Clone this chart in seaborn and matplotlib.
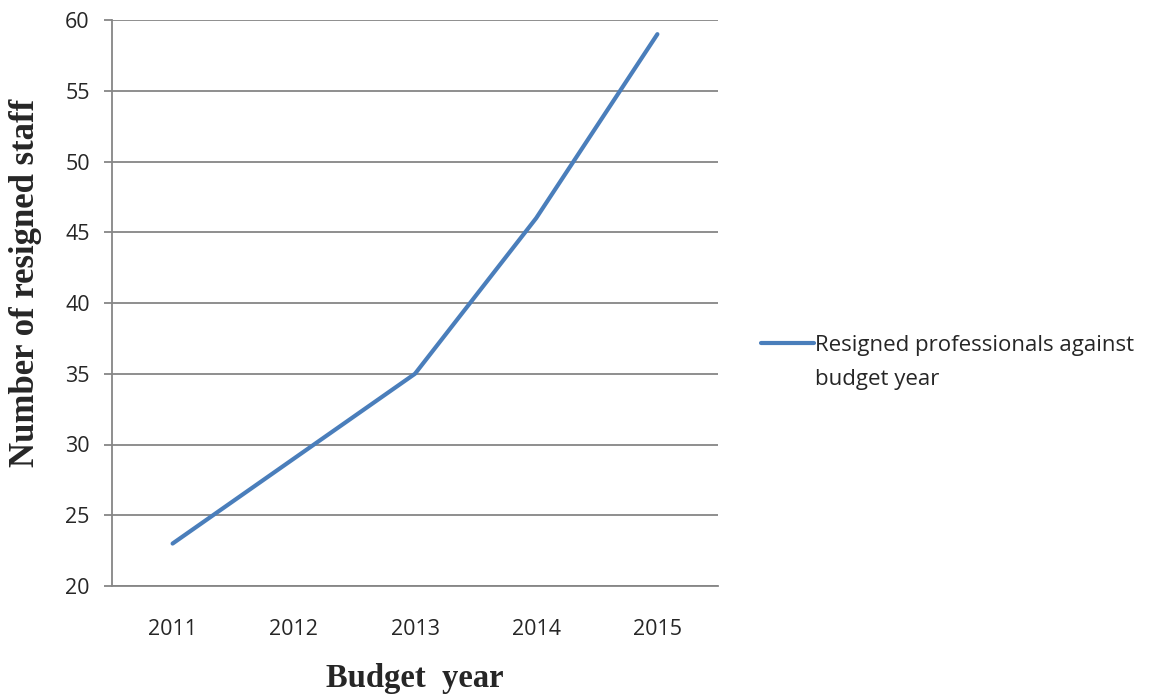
import pandas as pd
import matplotlib
matplotlib.use("Agg")
import matplotlib.pyplot as plt
import seaborn as sns

# Data
years = ["2011", "2012", "2013", "2014", "2015"]
resigned = [23, 29, 35, 46, 59]
series_lines = ["Resigned professionals against", "budget year"]

df = pd.DataFrame({"Year": years, "Resigned": resigned,
                   "Series": " ".join(series_lines)})

sns.set_theme(style="white")
plt.rcParams["font.family"] = ["Open Sans", "DejaVu Sans"]

grid_col = "#868686"
line_col = "#4A7EBB"

fig = plt.figure(figsize=(11.56, 7), dpi=100)
ax = fig.add_axes([112 / 1156, 1 - 586 / 700, 606 / 1156, 566 / 700])

sns.lineplot(data=df, x="Year", y="Resigned", hue="Series", palette=[line_col],
             linewidth=3, ax=ax, sort=False, legend=False)
ax.lines[0].set_solid_capstyle("round")

ax.set_xlim(-0.5, len(years) - 0.5)
ax.set_ylim(20, 60)
ax.set_yticks(range(20, 61, 5))

ax.grid(axis="y", color=grid_col, linewidth=1.3)
ax.set_axisbelow(True)
for side in ["top", "right"]:
    ax.spines[side].set_visible(False)
for side in ["left", "bottom"]:
    ax.spines[side].set_color(grid_col)
    ax.spines[side].set_linewidth(1.3)

ax.tick_params(axis="y", length=6, width=1.3, color=grid_col, direction="out",
               labelsize=15.5, pad=10, left=True)
ax.tick_params(axis="x", length=0, labelsize=15.5, pad=24)

serif = ["Liberation Serif", "DejaVu Serif"]
ax.set_xlabel("Budget  year", fontsize=23.5, fontweight="bold", family=serif, labelpad=16)
ax.set_ylabel("Number of resigned staff", fontsize=25, fontweight="bold", family=serif)
ax.yaxis.set_label_coords(-0.115, 0.535)

# legend: handle next to the first line, second line wrapped below it
handle = plt.Line2D([], [], color=line_col, linewidth=3)
leg = fig.legend([handle], [series_lines[0]], loc="center left",
                 bbox_to_anchor=(741 / 1156, 1 - 345 / 700), frameon=False,
                 fontsize=16, handlelength=2.4, handletextpad=0.05)
fig.canvas.draw()
bb = leg.get_texts()[0].get_window_extent().transformed(fig.transFigure.inverted())
fig.text(bb.x0, bb.y0 - 35 / 700, series_lines[1], fontsize=16, ha="left", va="bottom",
         color=leg.get_texts()[0].get_color())

fig.savefig("out.png", dpi=100)
